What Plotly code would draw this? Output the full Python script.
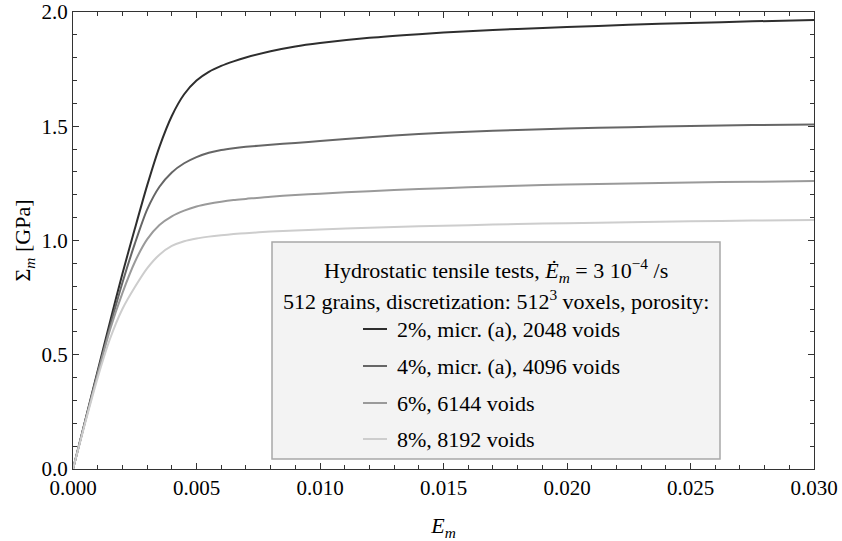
import plotly.graph_objects as go

# Hydrostatic tensile response: macroscopic mean stress vs mean strain
strain = [0.0, 0.0005, 0.0010, 0.0015, 0.0020, 0.0025, 0.0030, 0.0035, 0.0040, 0.0045,
          0.0050, 0.0055, 0.0060, 0.0065, 0.0070, 0.0080, 0.0090, 0.0100, 0.0120, 0.0140,
          0.0160, 0.0180, 0.0200, 0.0225, 0.0250, 0.0275, 0.0300]

S_2pct = [0.0, 0.215, 0.430, 0.645, 0.855, 1.050, 1.240, 1.410, 1.545, 1.640,
          1.700, 1.738, 1.764, 1.784, 1.801, 1.828, 1.849, 1.864, 1.887, 1.903,
          1.916, 1.926, 1.934, 1.944, 1.952, 1.959, 1.965]

S_4pct = [0.0, 0.212, 0.422, 0.625, 0.815, 0.985, 1.135, 1.235, 1.298, 1.338,
          1.365, 1.384, 1.396, 1.404, 1.410, 1.419, 1.427, 1.435, 1.452, 1.466,
          1.476, 1.484, 1.490, 1.496, 1.501, 1.505, 1.508]

S_6pct = [0.0, 0.210, 0.415, 0.610, 0.770, 0.905, 1.005, 1.068, 1.106, 1.131,
          1.149, 1.161, 1.170, 1.177, 1.182, 1.192, 1.199, 1.205, 1.216, 1.225,
          1.233, 1.240, 1.245, 1.250, 1.254, 1.257, 1.260]

S_8pct = [0.0, 0.205, 0.400, 0.570, 0.700, 0.795, 0.878, 0.938, 0.976, 0.997,
          1.009, 1.017, 1.023, 1.028, 1.032, 1.039, 1.044, 1.048, 1.056, 1.062,
          1.067, 1.072, 1.076, 1.080, 1.084, 1.087, 1.090]

series_labels = [
    "2%, micr. (a), 2048 voids",
    "4%, micr. (a), 4096 voids",
    "6%, 6144 voids",
    "8%, 8192 voids",
]
series_colors = ["#2e2e2e", "#666666", "#9a9a9a", "#cdcdcd"]

legend_title_lines = [
    "Hydrostatic tensile tests, <i>Ė</i><sub><i>m</i></sub> = 3 10<sup>−4</sup> /s",
    "512 grains, discretization: 512<sup>3</sup> voxels, porosity:",
]

x_ticks = [0.000, 0.005, 0.010, 0.015, 0.020, 0.025, 0.030]
y_ticks = [0.0, 0.5, 1.0, 1.5, 2.0]

FONT = "Liberation Serif"
FRAME = "#333333"

# plot-area geometry in pixels
W, H = 842, 541
PL, PR, PT, PB = 73, 814, 12, 469


def px_x(x):
    return (x - PL) / (PR - PL)


def px_y(y):
    return (PB - y) / (PB - PT)


fig = go.Figure()
all_stress = [S_2pct, S_4pct, S_6pct, S_8pct]
for sy, name, col in zip(all_stress, series_labels, series_colors):
    fig.add_trace(go.Scatter(
        x=strain, y=sy, mode="lines", name=name, showlegend=False,
        line=dict(color=col, width=2, shape="spline", smoothing=0.7),
        hoverinfo="skip",
    ))

axis_common = dict(
    showgrid=False, zeroline=False, showline=True, linecolor=FRAME, linewidth=1.3,
    mirror="allticks", ticks="inside", ticklen=6, tickwidth=1, tickcolor=FRAME,
    tickfont=dict(family=FONT, size=21, color="black"),
)

fig.update_xaxes(
    range=[0, 0.030], tickvals=x_ticks, tickformat=".3f",
    minor=dict(dtick=0.001, ticks="inside", ticklen=4, tickcolor=FRAME, tickwidth=1),
    title=dict(text="<i>E</i><sub><i>m</i></sub>", font=dict(family=FONT, size=22, color="black"), standoff=20),
    **axis_common,
)
fig.update_yaxes(
    range=[0, 2.0], tickvals=y_ticks, tickformat=".1f",
    minor=dict(dtick=0.1, ticks="inside", ticklen=4, tickcolor=FRAME, tickwidth=1),
    title=dict(text="Σ<sub><i>m</i></sub> [GPa]", font=dict(family=FONT, size=22, color="black"), standoff=4),
    **axis_common,
)

# legend panel
shapes = [dict(
    type="rect", xref="paper", yref="paper",
    x0=px_x(272), x1=px_x(720), y0=px_y(459), y1=px_y(242),
    fillcolor="#f3f3f3", line=dict(color="#a8a8a8", width=1.5), layer="above",
)]
annotations = []
for txt, yy in zip(legend_title_lines, [270, 300]):
    annotations.append(dict(
        text=txt, xref="paper", yref="paper", x=px_x(496), y=px_y(yy),
        xanchor="center", yanchor="middle", showarrow=False,
        font=dict(family=FONT, size=22, color="black"),
    ))
for name, col, yy in zip(series_labels, series_colors, [329, 366, 403, 439]):
    shapes.append(dict(
        type="line", xref="paper", yref="paper",
        x0=px_x(363), x1=px_x(387), y0=px_y(yy), y1=px_y(yy),
        line=dict(color=col, width=2), layer="above",
    ))
    annotations.append(dict(
        text=name, xref="paper", yref="paper", x=px_x(395), y=px_y(yy),
        xanchor="left", yanchor="middle", showarrow=False,
        font=dict(family=FONT, size=22, color="black"),
    ))

fig.update_layout(
    width=W, height=H,
    margin=dict(l=PL, r=W - PR, t=PT, b=H - PB, autoexpand=False),
    paper_bgcolor="white", plot_bgcolor="white",
    shapes=shapes, annotations=annotations,
    font=dict(family=FONT, color="black"),
)

fig.write_html("out.html")
